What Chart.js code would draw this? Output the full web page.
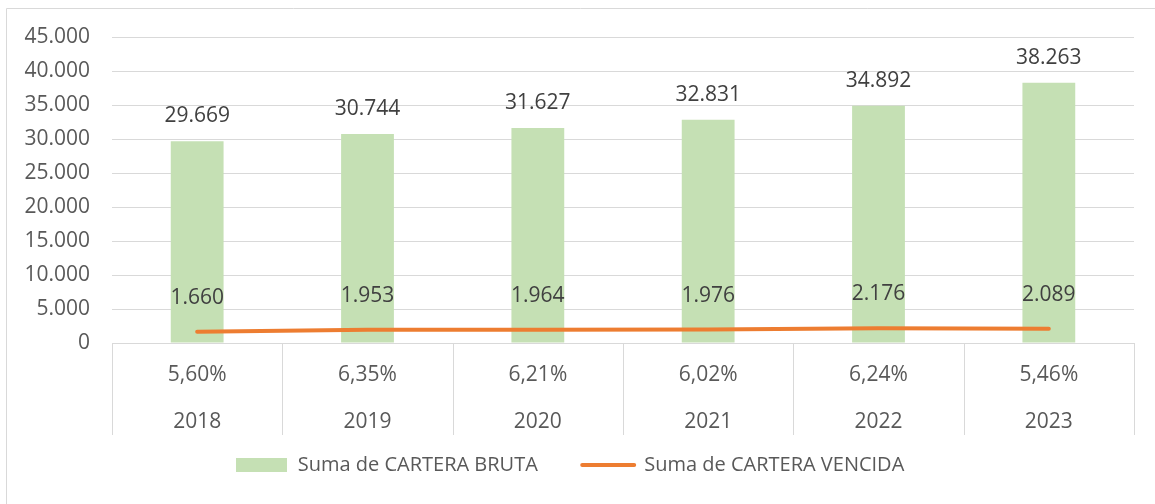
<!DOCTYPE html>
<html>
<head>
<meta charset="utf-8">
<script src="https://cdn.jsdelivr.net/npm/chart.js@4"></script>
<style>
  html, body { margin: 0; padding: 0; background: #fff; }
  #wrap { width: 1155px; height: 504px; position: relative; }
</style>
</head>
<body>
<div id="wrap"><canvas id="cartera" width="1155" height="504"></canvas></div>
<script>
const years = ['2018', '2019', '2020', '2021', '2022', '2023'];
const ratios = ['5,60%', '6,35%', '6,21%', '6,02%', '6,24%', '5,46%'];
const carteraBruta = [29669, 30744, 31627, 32831, 34892, 38263];
const carteraVencida = [1660, 1953, 1964, 1976, 2176, 2089];
const yTicks = [0, 5000, 10000, 15000, 20000, 25000, 30000, 35000, 40000, 45000];

const GREEN = '#C5E0B4';
const ORANGE = '#ED7D31';
const TEXT = '#595959';
const GRID = '#D9D9D9';
const FONT = 'Open Sans';

// miles con punto, como en Excel es-ES
const fmt = v => String(v).replace(/\B(?=(\d{3})+(?!\d))/g, '.');

// caja verde para la leyenda
const greenBox = document.createElement('canvas');
greenBox.width = 51; greenBox.height = 14;
greenBox.getContext('2d').fillStyle = GREEN;
greenBox.getContext('2d').fillRect(0, 0, 51, 14);

const framePlugin = {
  id: 'frame',
  beforeDraw(chart) {
    const { ctx } = chart;
    ctx.save();
    ctx.strokeStyle = GRID;
    ctx.lineWidth = 1;
    ctx.beginPath();
    ctx.moveTo(6.5, 504);
    ctx.lineTo(6.5, 8.5);
    ctx.lineTo(1155, 8.5);
    ctx.stroke();
    ctx.restore();
  },
  afterDraw(chart) {
    // separadores de la tabla de categorias bajo el eje
    const { ctx, chartArea } = chart;
    const step = (chartArea.right - chartArea.left) / years.length;
    ctx.save();
    ctx.strokeStyle = GRID;
    ctx.lineWidth = 1;
    ctx.beginPath();
    for (let i = 0; i <= years.length; i++) {
      const px = Math.round(chartArea.left + i * step) + 0.5;
      ctx.moveTo(px, chartArea.bottom);
      ctx.lineTo(px, chartArea.bottom + 92);
    }
    ctx.stroke();
    ctx.restore();
  }
};

const labelPlugin = {
  id: 'valueLabels',
  afterDatasetsDraw(chart) {
    const { ctx } = chart;
    ctx.save();
    ctx.fillStyle = '#404040';
    ctx.font = `21px "${FONT}"`;
    ctx.textAlign = 'center';
    ctx.textBaseline = 'middle';
    chart.getDatasetMeta(0).data.forEach((bar, i) => {
      ctx.fillText(fmt(carteraBruta[i]), bar.x, bar.y - 25);
    });
    chart.getDatasetMeta(1).data.forEach((pt, i) => {
      ctx.fillText(fmt(carteraVencida[i]), pt.x, pt.y - 34);
    });
    ctx.restore();
  }
};

new Chart(document.getElementById('cartera'), {
  data: {
    labels: years.map((y, i) => [ratios[i], y]),
    datasets: [
      {
        type: 'bar',
        label: 'Suma de CARTERA BRUTA',
        data: carteraBruta,
        backgroundColor: GREEN,
        categoryPercentage: 1,
        barPercentage: 0.31,
        order: 2
      },
      {
        type: 'line',
        label: 'Suma de CARTERA VENCIDA',
        data: carteraVencida,
        borderColor: ORANGE,
        backgroundColor: ORANGE,
        borderWidth: 4,
        borderCapStyle: 'round',
        pointRadius: 0,
        tension: 0,
        order: 1
      }
    ]
  },
  options: {
    responsive: false,
    animation: false,
    layout: { padding: { left: 6, right: 21, top: 37, bottom: 19 } },
    scales: {
      x: {
        grid: { display: false },
        border: { color: GRID, width: 1 },
        ticks: {
          color: TEXT,
          font: { family: FONT, size: 21, lineHeight: 47 / 21 },
          padding: 1,
          maxRotation: 0
        }
      },
      y: {
        min: 0,
        max: 45000,
        afterBuildTicks(scale) { scale.ticks = yTicks.map(v => ({ value: v })); },
        afterFit(scale) { scale.width = 106; },
        grid: { color: GRID, lineWidth: 1, drawTicks: false },
        border: { display: false },
        ticks: {
          color: TEXT,
          font: { family: FONT, size: 21 },
          padding: 22,
          callback: v => fmt(v)
        }
      }
    },
    plugins: {
      tooltip: { enabled: false },
      legend: {
        position: 'bottom',
        labels: {
          color: TEXT,
          font: { family: FONT, size: 20 },
          usePointStyle: true,
          pointStyleWidth: 52,
          padding: 8,
          generateLabels(chart) {
            const items = Chart.defaults.plugins.legend.labels.generateLabels(chart)
              .sort((a, b) => a.datasetIndex - b.datasetIndex);
            items[0].pointStyle = greenBox;
            items[0].text += '       ';
            items[1].pointStyle = 'line';
            items[1].strokeStyle = ORANGE;
            items[1].lineWidth = 4;
            items[1].lineCap = 'round';
            return items;
          }
        }
      }
    }
  },
  plugins: [framePlugin, labelPlugin]
});
</script>
</body>
</html>
